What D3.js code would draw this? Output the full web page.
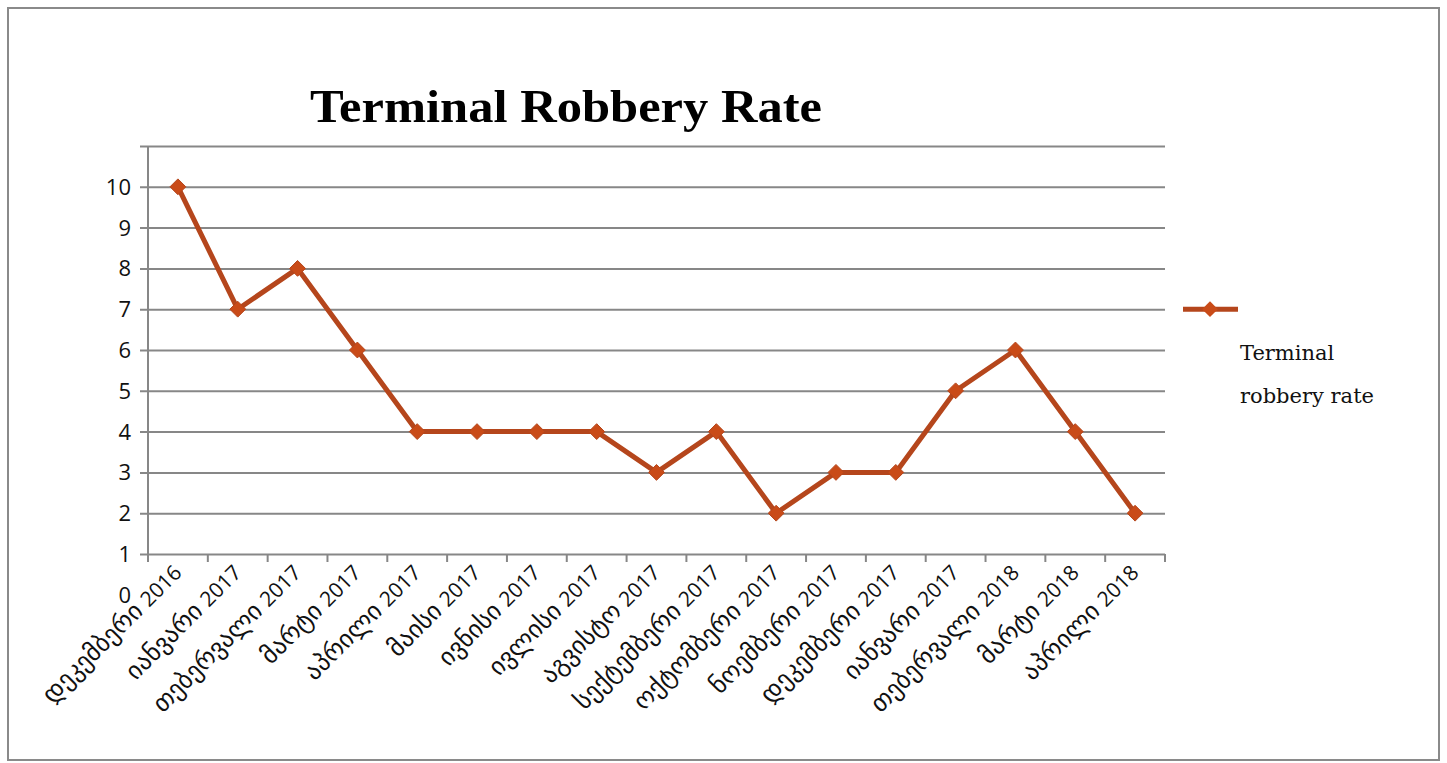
<!DOCTYPE html>
<html><head><meta charset="utf-8">
<script src="https://cdn.jsdelivr.net/npm/d3@7"></script>
<style>html,body{margin:0;padding:0;background:#fff;}</style>
</head><body>
<svg id="c" width="1447" height="763"></svg>
<script>
const categories = ["დეკემბერი 2016","იანვარი 2017","თებერვალი 2017","მარტი 2017","აპრილი 2017","მაისი 2017","ივნისი 2017","ივლისი 2017","აგვისტო 2017","სექტემბერი 2017","ოქტომბერი 2017","ნოემბერი 2017","დეკემბერი 2017","იანვარი 2017","თებერვალი 2018","მარტი 2018","აპრილი 2018"];
const values = [10,7,8,6,4,4,4,4,3,4,2,3,3,5,6,4,2];
const gridValues = [1,2,3,4,5,6,7,8,9,10,11];
const yTickLabels = [0,1,2,3,4,5,6,7,8,9,10];
const seriesName = ["Terminal","robbery rate"];
const title = "Terminal Robbery Rate";

(function(){
const svg = d3.select("#c");
const lineColor = "#b5461c", markColor = "#c94b18", gridColor = "#878787";
const pLeft = 148, pRight = 1165, pTop = 146, pBottom = 554;

svg.append("rect").attr("x",8).attr("y",8).attr("width",1431).attr("height",752)
  .attr("fill","#fff").attr("stroke","#8a8a8a").attr("stroke-width",2);

const idx = d3.range(categories.length);
const x = d3.scaleBand().domain(idx).range([pLeft,pRight]);
const cx = i => x(i) + x.bandwidth()/2;
const y = d3.scaleLinear().domain([1,11]).range([pBottom,pTop]);

const yAxis = d3.axisLeft(y).tickValues(gridValues).tickSize(-(pRight-pLeft)).tickFormat("").tickSizeOuter(0);
const gy = svg.append("g").attr("transform",`translate(${pLeft},0)`).call(yAxis);
gy.select(".domain").remove();
gy.selectAll(".tick line").attr("stroke",gridColor).attr("stroke-width",2).attr("x1",-8);

svg.append("line").attr("x1",pLeft).attr("x2",pLeft).attr("y1",y(11)).attr("y2",y(1)+8)
  .attr("stroke",gridColor).attr("stroke-width",2);

svg.append("g").selectAll("text").data(yTickLabels).join("text")
  .attr("x",131).attr("y",d=>y(d)).attr("dy","0.36em").attr("text-anchor","end")
  .attr("font-family","'Open Sans','DejaVu Sans',sans-serif").attr("font-size",22).attr("fill","#111")
  .text(d=>d);

const bounds = d3.range(categories.length+1).map(i=>pLeft + i*x.step());
svg.append("g").selectAll("line").data(bounds).join("line")
  .attr("x1",d=>d).attr("x2",d=>d).attr("y1",pBottom).attr("y2",pBottom+8)
  .attr("stroke",gridColor).attr("stroke-width",2);

const lab = svg.append("g").selectAll("text").data(idx).join("text")
  .attr("transform",i=>`translate(${cx(i)+1},${pBottom+16}) rotate(-45)`)
  .attr("text-anchor","end").attr("dy","0.35em")
  .attr("font-family","'Open Sans','DejaVu Sans',sans-serif").attr("fill","#111");
lab.append("tspan").attr("font-size",25).text(i=>categories[i].split(" ")[0] + " ");
lab.append("tspan").attr("font-size",21).text(i=>categories[i].split(" ")[1]);

const line = d3.line().x((d,i)=>cx(i)).y(d=>y(d));
svg.append("path").datum(values).attr("d",line).attr("fill","none")
  .attr("stroke",lineColor).attr("stroke-width",5).attr("stroke-linejoin","round");

const diamond = d3.symbol().type(d3.symbolDiamond2).size(160);
svg.append("g").selectAll("path").data(values).join("path")
  .attr("transform",(d,i)=>`translate(${cx(i)},${y(d)})`)
  .attr("d",diamond).attr("fill",markColor).attr("stroke",lineColor).attr("stroke-width",1);

svg.append("text").attr("x",566).attr("y",122).attr("text-anchor","middle")
  .attr("font-family","'Liberation Serif','DejaVu Serif',serif").attr("font-weight","bold")
  .attr("font-size",46).attr("fill","#000").attr("textLength",512).attr("lengthAdjust","spacingAndGlyphs")
  .text(title);

const lg = svg.append("g");
lg.append("line").attr("x1",1183).attr("x2",1238).attr("y1",y(7)).attr("y2",y(7))
  .attr("stroke",lineColor).attr("stroke-width",5);
lg.append("path").attr("transform",`translate(1210,${y(7)})`).attr("d",diamond).attr("fill",markColor);
lg.selectAll("text").data(seriesName).join("text")
  .attr("x",1240).attr("y",(d,i)=>360+i*43)
  .attr("font-family","'DejaVu Serif','Liberation Serif',serif").attr("font-size",21).attr("fill","#111")
  .text(d=>d);
})();
</script>
</body></html>
